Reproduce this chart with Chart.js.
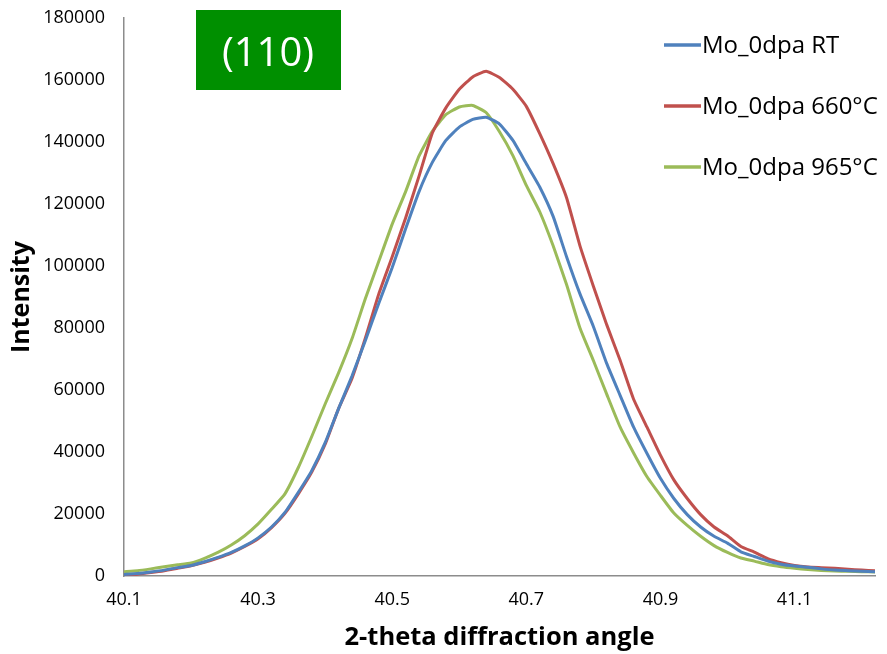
<!DOCTYPE html>
<html>
<head>
<meta charset="utf-8">
<script src="https://cdn.jsdelivr.net/npm/chart.js@4"></script>
<style>
  html, body { margin: 0; padding: 0; background: #fff; }
  #wrap { width: 887px; height: 654px; }
</style>
</head>
<body>
<div id="wrap"><canvas id="xrdChart" width="887" height="654"></canvas></div>
<script>
// 2-theta positions (deg)
const angles = [40.10, 40.12, 40.14, 40.16, 40.18, 40.20, 40.22, 40.24, 40.26, 40.28,
  40.30, 40.32, 40.34, 40.36, 40.38, 40.40, 40.42, 40.44, 40.46, 40.48,
  40.50, 40.52, 40.54, 40.56, 40.58, 40.60, 40.62, 40.64, 40.66, 40.68,
  40.70, 40.72, 40.74, 40.76, 40.78, 40.80, 40.82, 40.84, 40.86, 40.88,
  40.90, 40.92, 40.94, 40.96, 40.98, 41.00, 41.02, 41.04, 41.06, 41.08,
  41.10, 41.12, 41.14, 41.16, 41.18, 41.20, 41.22];

const seriesNames = ["Mo_0dpa RT", "Mo_0dpa 660°C", "Mo_0dpa 965°C"];

const rtIntensity = [500, 800, 1300, 1900, 2700, 3400, 4600, 6000, 7600, 9700,
  12300, 15800, 20500, 27000, 34000, 43000, 54000, 64500, 76000, 88000,
  99500, 112000, 124000, 133500, 140500, 144800, 147300, 148000, 145800, 140500,
  133000, 125500, 116000, 103000, 91000, 80500, 68500, 58200, 48000, 39500,
  31500, 25000, 19800, 15800, 12800, 10600, 7800, 6300, 4800, 3800,
  3200, 2800, 2300, 1900, 1700, 1500, 1400];

const i660Intensity = [300, 600, 1100, 1700, 2500, 3300, 4400, 5800, 7400, 9500,
  12000, 15600, 20200, 26500, 33500, 42500, 54000, 63700, 76800, 91000,
  103000, 115500, 129000, 143000, 151000, 157000, 161000, 162800, 160800, 157000,
  151500, 142700, 133000, 122000, 106500, 93500, 81000, 69500, 57000, 48000,
  39000, 31000, 25000, 19800, 15800, 13000, 9500, 7700, 5600, 4300,
  3400, 2900, 2700, 2500, 2200, 1900, 1700];

const i965Intensity = [1400, 1700, 2300, 3000, 3600, 4200, 5700, 7600, 10000, 13000,
  16800, 21500, 26500, 35000, 45000, 55500, 65500, 76500, 89500, 101500,
  113500, 124000, 135500, 143500, 148800, 151300, 151800, 149500, 143300, 135600,
  126000, 117500, 106500, 94000, 80000, 69500, 58600, 48000, 39700, 32000,
  26000, 20300, 16300, 12800, 9800, 7600, 5800, 4800, 3700, 3000,
  2500, 2100, 1800, 1600, 1500, 1400, 1300];

const xTicks = [40.1, 40.3, 40.5, 40.7, 40.9, 41.1];
const yTicks = [0, 20000, 40000, 60000, 80000, 100000, 120000, 140000, 160000, 180000];

const lineColors = ["#4f81bd", "#c0504d", "#9bbb59"];

function toPoints(ys) {
  return angles.map((a, i) => ({ x: a, y: ys[i] }));
}

const allSeries = [rtIntensity, i660Intensity, i965Intensity];

// legend and (110) label drawn over the plot area
const overlayPlugin = {
  id: "overlay",
  afterDraw(chart) {
    const ctx = chart.ctx;
    ctx.save();
    // green peak label
    ctx.fillStyle = "#008f00";
    ctx.fillRect(196, 10, 145, 80);
    ctx.fillStyle = "#ffffff";
    ctx.font = "40px 'Open Sans'";
    ctx.textAlign = "center";
    ctx.textBaseline = "middle";
    ctx.fillText("(110)", 268, 55);

    // legend
    ctx.font = "24px 'Open Sans'";
    ctx.textAlign = "left";
    chart.data.datasets.forEach((ds, i) => {
      const y = 45 + i * 61;
      ctx.strokeStyle = ds.borderColor;
      ctx.lineWidth = 3.5;
      ctx.beginPath();
      ctx.moveTo(664, y);
      ctx.lineTo(701, y);
      ctx.stroke();
      ctx.fillStyle = "#000";
      ctx.fillText(ds.label, 702, y + 1);
    });
    ctx.restore();
  }
};

new Chart(document.getElementById("xrdChart").getContext("2d"), {
  type: "line",
  data: {
    datasets: seriesNames.map((name, i) => ({
      label: name,
      data: toPoints(allSeries[i]),
      borderColor: lineColors[i],
      backgroundColor: lineColors[i],
      borderWidth: 3,
      pointRadius: 0,
      tension: 0.15,
      fill: false
    }))
  },
  options: {
    responsive: false,
    animation: false,
    layout: { padding: { top: 18, right: 12, bottom: 0, left: 0 } },
    plugins: {
      legend: { display: false },
      tooltip: { enabled: false }
    },
    scales: {
      x: {
        type: "linear",
        min: 40.1,
        max: 41.22,
        afterBuildTicks(scale) {
          scale.ticks = xTicks.map(v => ({ value: v }));
        },
        afterFit(scale) { scale.height = 78; },
        grid: { display: false, drawTicks: false },
        border: { display: true, color: "#8c8c8c", width: 1.5 },
        ticks: {
          padding: 13,
          color: "#000",
          font: { family: "'Open Sans'", size: 18 },
          callback: v => v.toFixed(1)
        },
        title: {
          display: true,
          text: "2-theta diffraction angle",
          color: "#000",
          font: { family: "'Open Sans'", size: 25.5, weight: "bold" },
          padding: { top: 0, bottom: 1 }
        }
      },
      y: {
        min: 0,
        max: 180000,
        afterBuildTicks(scale) {
          scale.ticks = yTicks.map(v => ({ value: v }));
        },
        afterFit(scale) {
          scale.width = 124;
          // keep the label padding from pushing the plot area down
          scale.paddingTop = 10;
          scale.paddingBottom = 10;
        },
        grid: { display: false, drawTicks: false },
        border: { display: true, color: "#8c8c8c", width: 1.5 },
        ticks: {
          padding: 19,
          color: "#000",
          font: { family: "'Open Sans'", size: 18 },
          callback: v => String(v)
        },
        title: {
          display: true,
          text: "Intensity",
          color: "#000",
          font: { family: "'Open Sans'", size: 25, weight: "bold" },
          padding: { top: 7, bottom: 0 }
        }
      }
    }
  },
  plugins: [overlayPlugin]
});
</script>
</body>
</html>
